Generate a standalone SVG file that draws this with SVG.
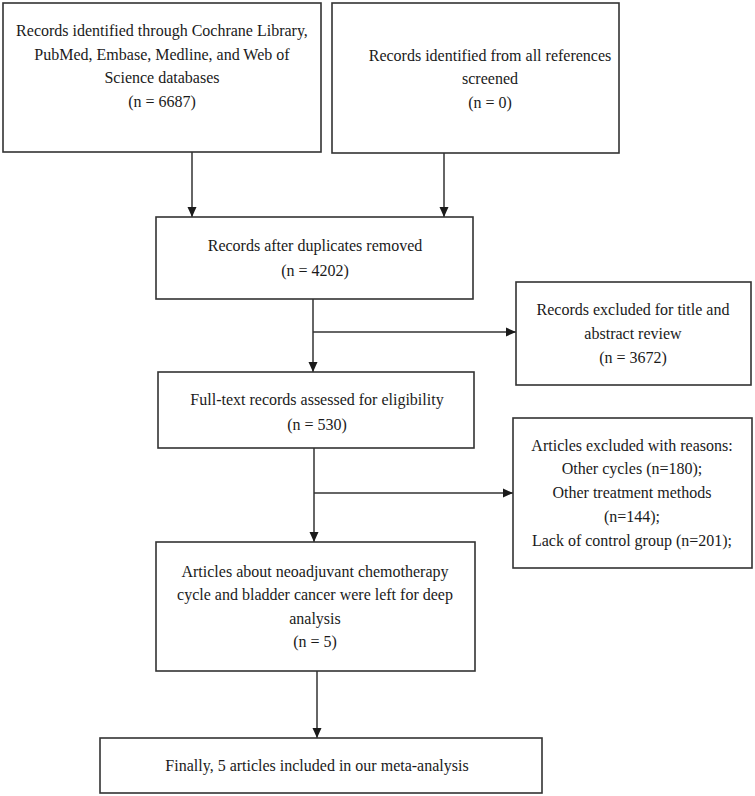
<svg xmlns="http://www.w3.org/2000/svg" width="755" height="796" viewBox="0 0 755 796">
<defs>
<style>
.box{fill:#fff;stroke:#333;stroke-width:1.6}
.t{font-family:"Liberation Serif","Times New Roman",serif;font-size:16px;fill:#1a1a1a;text-anchor:middle}
.c{fill:none;stroke:#333;stroke-width:1.5}
</style>
<marker id="ah" viewBox="0 0 10 10" refX="10" refY="5" markerWidth="10" markerHeight="10" markerUnits="userSpaceOnUse" orient="auto">
<path d="M0,0.5 L10,5 L0,9.5 Z" fill="#1a1a1a"/>
</marker>
</defs>
<rect width="755" height="796" fill="#fff"/>
<g id="connectors">
<line class="c" x1="192" y1="152" x2="192" y2="217" marker-end="url(#ah)"/>
<line class="c" x1="444" y1="153" x2="444" y2="217" marker-end="url(#ah)"/>
<line class="c" x1="313" y1="299" x2="313" y2="372" marker-end="url(#ah)"/>
<line class="c" x1="313" y1="332" x2="516" y2="332" marker-end="url(#ah)"/>
<line class="c" x1="314" y1="448" x2="314" y2="542" marker-end="url(#ah)"/>
<line class="c" x1="314" y1="493" x2="513" y2="493" marker-end="url(#ah)"/>
<line class="c" x1="317" y1="671" x2="317" y2="738" marker-end="url(#ah)"/>
</g>
<g id="n1">
<rect class="box" x="3" y="3" width="318" height="149"/>
<text class="t" x="162" y="36">Records identified through Cochrane Library,</text>
<text class="t" x="162" y="60">PubMed, Embase, Medline, and Web of</text>
<text class="t" x="162" y="83">Science databases</text>
<text class="t" x="162" y="107">(n = 6687)</text>
</g>
<g id="n2">
<rect class="box" x="332" y="3" width="287" height="150"/>
<text class="t" x="490" y="61">Records identified from all references</text>
<text class="t" x="490" y="84">screened</text>
<text class="t" x="490" y="108">(n = 0)</text>
</g>
<g id="n3">
<rect class="box" x="156" y="217" width="317" height="82"/>
<text class="t" x="315" y="251">Records after duplicates removed</text>
<text class="t" x="315" y="276">(n = 4202)</text>
</g>
<g id="n4">
<rect class="box" x="516" y="282" width="235" height="103"/>
<text class="t" x="633" y="315">Records excluded for title and</text>
<text class="t" x="633" y="339">abstract review</text>
<text class="t" x="633" y="363">(n = 3672)</text>
</g>
<g id="n5">
<rect class="box" x="158" y="372" width="316" height="76"/>
<text class="t" x="317" y="405">Full-text records assessed for eligibility</text>
<text class="t" x="317" y="430">(n = 530)</text>
</g>
<g id="n6">
<rect class="box" x="513" y="418" width="239" height="150"/>
<text class="t" x="632" y="451">Articles excluded with reasons:</text>
<text class="t" x="632" y="474">Other cycles (n=180);</text>
<text class="t" x="632" y="498">Other treatment methods</text>
<text class="t" x="632" y="522">(n=144);</text>
<text class="t" x="632" y="546">Lack of control group (n=201);</text>
</g>
<g id="n7">
<rect class="box" x="156" y="542" width="319" height="129"/>
<text class="t" x="315" y="577">Articles about neoadjuvant chemotherapy</text>
<text class="t" x="315" y="600">cycle and bladder cancer were left for deep</text>
<text class="t" x="315" y="624">analysis</text>
<text class="t" x="315" y="647">(n = 5)</text>
</g>
<g id="n8">
<rect class="box" x="100" y="738" width="442" height="55"/>
<text class="t" x="317" y="771">Finally, 5 articles included in our meta-analysis</text>
</g>
</svg>
